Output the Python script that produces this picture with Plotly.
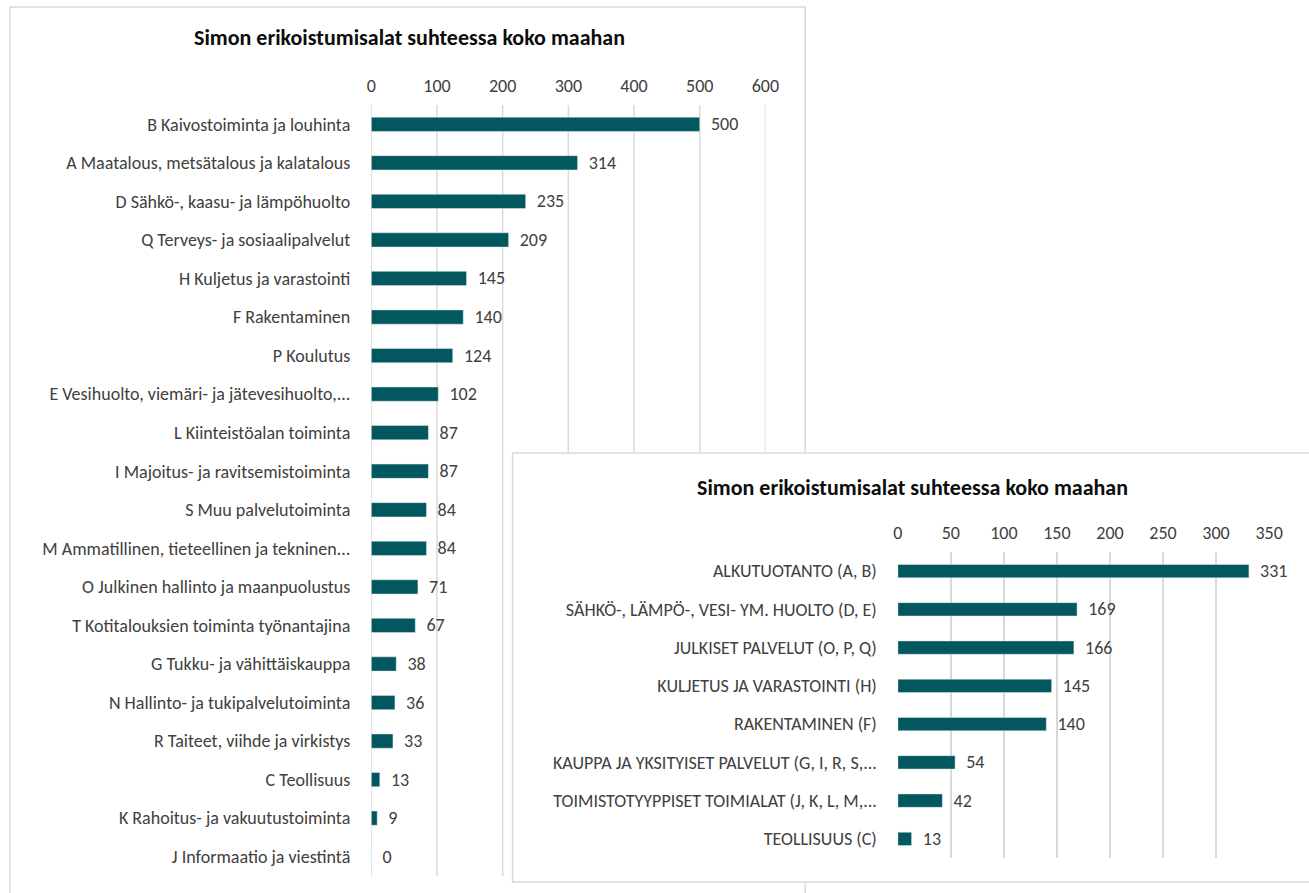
import plotly.graph_objects as go

# Kaavio 1: toimialat (TOL-päätasot)
toimialat = [
    "B Kaivostoiminta ja louhinta",
    "A Maatalous, metsätalous ja kalatalous",
    "D Sähkö-, kaasu- ja lämpöhuolto",
    "Q Terveys- ja sosiaalipalvelut",
    "H Kuljetus ja varastointi",
    "F Rakentaminen",
    "P Koulutus",
    "E Vesihuolto, viemäri- ja jätevesihuolto,...",
    "L Kiinteistöalan toiminta",
    "I Majoitus- ja ravitsemistoiminta",
    "S Muu palvelutoiminta",
    "M Ammatillinen, tieteellinen ja tekninen...",
    "O Julkinen hallinto ja maanpuolustus",
    "T Kotitalouksien toiminta työnantajina",
    "G Tukku- ja vähittäiskauppa",
    "N Hallinto- ja tukipalvelutoiminta",
    "R Taiteet, viihde ja virkistys",
    "C Teollisuus",
    "K Rahoitus- ja vakuutustoiminta",
    "J Informaatio ja viestintä",
]
toimialat_arvot = [500, 314, 235, 209, 145, 140, 124, 102, 87, 87,
                   84, 84, 71, 67, 38, 36, 33, 13, 9, 0]
ticks_1 = [0, 100, 200, 300, 400, 500, 600]

# Kaavio 2: toimialaryhmät
ryhmat = [
    "ALKUTUOTANTO (A, B)",
    "SÄHKÖ-, LÄMPÖ-, VESI- YM. HUOLTO (D, E)",
    "JULKISET PALVELUT (O, P, Q)",
    "KULJETUS JA VARASTOINTI (H)",
    "RAKENTAMINEN (F)",
    "KAUPPA JA YKSITYISET PALVELUT (G, I, R, S,...",
    "TOIMISTOTYYPPISET TOIMIALAT (J, K, L, M,...",
    "TEOLLISUUS (C)",
]
ryhmat_arvot = [331, 169, 166, 145, 140, 54, 42, 13]
ticks_2 = [0, 50, 100, 150, 200, 250, 300, 350]

otsikko = "Simon erikoistumisalat suhteessa koko maahan"

VARI = '#02585E'
TEKSTI = '#404040'
RUUDUKKO = '#d9d9d9'
FONTTI = 'Carlito, Calibri, Lato, sans-serif'
KOKO = 18
VALI = '\u00a0\u00a0'  # väli palkin ja arvon välillä

W, H = 1309, 893
K = 1.01  # pieni vaakakorjaus


def px(x):
    return x * K / W


def py(y):
    return 1 - y / H


fig = go.Figure()

fig.add_trace(go.Bar(
    y=toimialat, x=toimialat_arvot, orientation='h',
    marker=dict(color=VARI), width=0.37,
    text=[VALI + str(v) for v in toimialat_arvot], textposition='outside',
    constraintext='none',
    textfont=dict(color=TEKSTI, size=KOKO, family=FONTTI),
    cliponaxis=False, xaxis='x', yaxis='y', showlegend=False
))

fig.add_trace(go.Bar(
    y=ryhmat, x=ryhmat_arvot, orientation='h',
    marker=dict(color=VARI), width=0.35,
    text=[VALI + str(v) for v in ryhmat_arvot], textposition='outside',
    constraintext='none',
    textfont=dict(color=TEKSTI, size=KOKO, family=FONTTI),
    cliponaxis=False, xaxis='x2', yaxis='y2', showlegend=False
))

akseli_x = dict(
    side='top', showgrid=False, zeroline=False, showline=False,
    ticks='', tickfont=dict(color=TEKSTI, size=KOKO, family=FONTTI),
    ticklabelstandoff=8
)
akseli_y = dict(
    type='category', autorange='reversed', showgrid=False,
    zeroline=False, showline=False, ticks='',
    tickfont=dict(color=TEKSTI, size=KOKO, family=FONTTI),
    ticklabelstandoff=20
)

# Kaavion 1 pystyviivat piirretään muotoina, jotta kaavio 2 peittää ne
box2_top = py(453)
shapes = [
    # kaavion 1 kehys
    dict(type='rect', xref='paper', yref='paper', layer='below',
         x0=px(5), x1=px(804), y0=-0.05, y1=py(7),
         line=dict(color=RUUDUKKO, width=1.5), fillcolor='white'),
    # kaavion 2 kehys
    dict(type='rect', xref='paper', yref='paper', layer='below',
         x0=px(510), x1=1.02, y0=py(882), y1=box2_top,
         line=dict(color=RUUDUKKO, width=1.5), fillcolor='white'),
]
for t in ticks_1:
    y0 = py(876)
    if t >= 300:
        y0 = box2_top
    shapes.append(dict(type='line', xref='x', yref='paper', layer='below',
                       x0=t, x1=t, y0=y0, y1=py(105),
                       line=dict(color=RUUDUKKO, width=1.5)))

fig.update_layout(
    width=W, height=H, autosize=False,
    margin=dict(l=0, r=0, t=0, b=0),
    paper_bgcolor='white',
    plot_bgcolor='rgba(0,0,0,0)',
    font=dict(family=FONTTI, color=TEKSTI),
    xaxis=dict(akseli_x, domain=[px(368), px(764)], range=[0, 600],
               tickvals=ticks_1, anchor='y'),
    yaxis=dict(akseli_y, domain=[py(876), py(105)], anchor='x'),
    xaxis2=dict(akseli_x, domain=[px(897), px(1270)], range=[0, 350],
                tickvals=ticks_2, anchor='y2', showgrid=True,
                gridcolor=RUUDUKKO, gridwidth=1.5),
    yaxis2=dict(akseli_y, domain=[py(858), py(552)], anchor='x2'),
    shapes=shapes,
    annotations=[
        dict(text="<b>" + otsikko + "</b>", xref='paper', yref='paper',
             x=px(406), y=py(38), xanchor='center', yanchor='middle',
             showarrow=False,
             font=dict(size=22, color='#0d0d0d', family=FONTTI)),
        dict(text="<b>" + otsikko + "</b>", xref='paper', yref='paper',
             x=px(912), y=py(487), xanchor='center', yanchor='middle',
             showarrow=False,
             font=dict(size=22, color='#0d0d0d', family=FONTTI)),
    ],
)

# sivun oletusmarginaali ja vierityspalkit pois
fig.write_html("out.html",
               config={'displayModeBar': False, 'responsive': False},
               post_script="document.body.style.margin='0px';"
                           "document.body.style.overflow='hidden';")
